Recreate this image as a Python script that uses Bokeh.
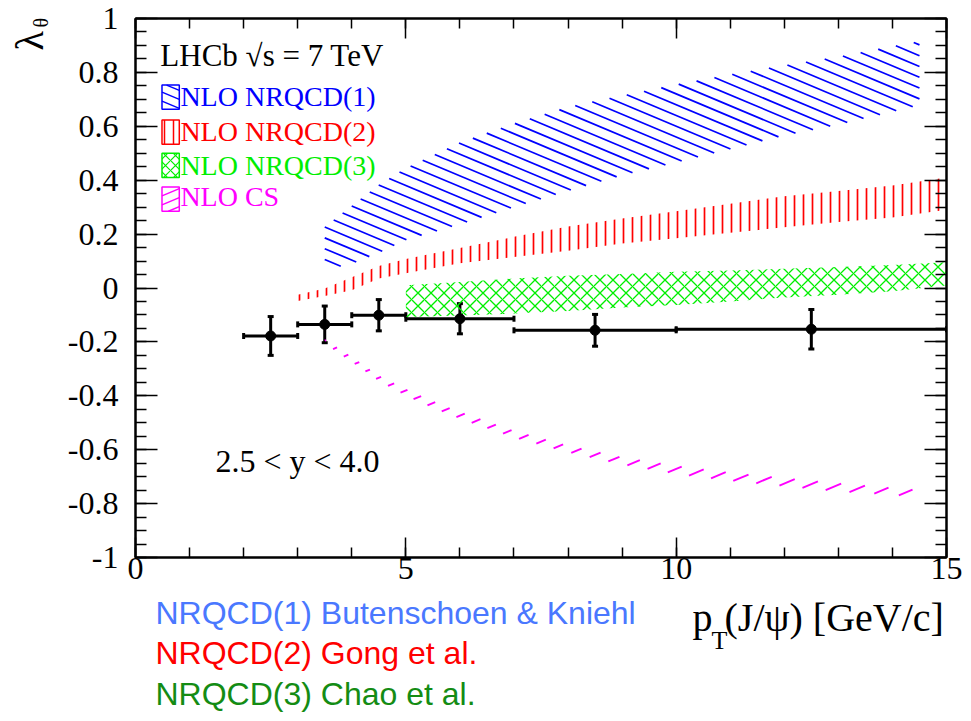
import numpy as np
from math import pi
from bokeh.plotting import figure
from bokeh.layouts import row, column
from bokeh.models import (LinearAxis, Range1d, Whisker, ColumnDataSource, Label,
                          CustomJSTickFormatter, FixedTicker, TeeHead)
from bokeh.embed import file_html
from bokeh.resources import INLINE
from bokeh.core.properties import value

# ---------------- data ----------------
pt_center = [2.5, 3.5, 4.5, 6.0, 8.5, 12.5]
pt_low = [2.0, 3.0, 4.0, 5.0, 7.0, 10.0]
pt_high = [3.0, 4.0, 5.0, 7.0, 10.0, 15.0]
lam_theta = [-0.178, -0.135, -0.101, -0.114, -0.157, -0.153]
lam_err = [0.072, 0.068, 0.058, 0.056, 0.059, 0.073]

nrqcd1_pt = [3.5, 4.0, 4.5, 5.0, 6.0, 7.0, 8.0, 9.0, 10.0, 11.0, 12.0, 13.0, 14.0, 14.5]
nrqcd1_hi = [0.227, 0.305, 0.383, 0.445, 0.54, 0.61, 0.672, 0.714, 0.755, 0.792, 0.826, 0.858, 0.897, 0.915]
nrqcd1_lo = [0.067, 0.09, 0.13, 0.178, 0.236, 0.30, 0.36, 0.418, 0.466, 0.515, 0.566, 0.606, 0.654, 0.678]

nrqcd2_pt = [3.0, 3.5, 4.0, 4.5, 5.0, 6.0, 7.0, 8.0, 9.0, 10.0, 11.0, 12.0, 13.0, 14.0, 15.0]
nrqcd2_hi = [-0.025, -0.002, 0.04, 0.082, 0.108, 0.148, 0.19, 0.228, 0.258, 0.285, 0.313, 0.34, 0.36, 0.38, 0.41]
nrqcd2_lo = [-0.048, -0.03, -0.008, 0.035, 0.055, 0.092, 0.115, 0.138, 0.165, 0.185, 0.205, 0.225, 0.245, 0.262, 0.29]

nrqcd3_pt = [5.0, 6.0, 7.0, 8.0, 9.0, 10.0, 11.0, 12.0, 13.0, 14.0, 15.0]
nrqcd3_hi = [0.01, 0.022, 0.035, 0.045, 0.052, 0.06, 0.065, 0.071, 0.078, 0.085, 0.096]
nrqcd3_lo = [-0.108, -0.102, -0.095, -0.085, -0.072, -0.063, -0.05, -0.035, -0.025, -0.012, 0.009]

cs_pt = [3.5, 4.0, 4.5, 5.0, 5.5, 6.0, 7.0, 8.0, 9.0, 10.0, 11.0, 12.0, 13.0, 14.0, 14.5]
cs_hi = [-0.19, -0.255, -0.325, -0.375, -0.42, -0.46, -0.53, -0.585, -0.628, -0.66, -0.685, -0.705, -0.725, -0.742, -0.75]
cs_lo = [-0.205, -0.275, -0.345, -0.40, -0.445, -0.485, -0.555, -0.61, -0.655, -0.69, -0.715, -0.735, -0.755, -0.768, -0.775]

x_ticks = [0, 5, 10, 15]
y_ticks = [-1.0, -0.8, -0.6, -0.4, -0.2, 0.0, 0.2, 0.4, 0.6, 0.8, 1.0]

legend_labels = ["NLO NRQCD(1)", "NLO NRQCD(2)", "NLO NRQCD(3)", "NLO CS"]
credit_labels = ["NRQCD(1) Butenschoen & Kniehl", "NRQCD(2) Gong et al.", "NRQCD(3) Chao et al."]

# ---------------- styles ----------------
BLUE, RED, GREEN, MAG = "#0000ff", "#ff0000", "#00ee00", "#ff00ff"
SERIF = "Liberation Serif"
FRAME_W, FRAME_H = 811, 539
SX, SY = FRAME_W / 15.0, FRAME_H / 2.0     # px per data unit


def hatch_lines(xs, lo, hi, slope, vspace, n=3000):
    """Slanted hatch lines (screen slope, y up) clipped to the band lo..hi."""
    xs = np.asarray(xs, float)
    xf = np.linspace(xs[0], xs[-1], n)
    lof = np.interp(xf, xs, lo) * SY
    hif = np.interp(xf, xs, hi) * SY
    X = xf * SX
    cmin = (lof - slope * X).min()
    cmax = (hif - slope * X).max()
    out = [[], [], [], []]
    for k in np.arange(np.floor(cmin / vspace), np.ceil(cmax / vspace) + 1):
        Y = slope * X + k * vspace
        idx = np.where((Y >= lof) & (Y <= hif))[0]
        if len(idx) < 2:
            continue
        i0, i1 = idx[0], idx[-1]
        out[0].append(xf[i0]); out[1].append(Y[i0] / SY)
        out[2].append(xf[i1]); out[3].append(Y[i1] / SY)
    return out


p = figure(width=911, height=593, x_range=Range1d(0, 15), y_range=Range1d(-1, 1),
           output_backend="svg", toolbar_location=None,
           min_border_left=75, min_border_right=25, min_border_top=18, min_border_bottom=36,
           x_axis_location=None, y_axis_location=None)
p.grid.visible = False
p.outline_line_color = "black"
p.outline_line_width = 2
p.background_fill_color = "white"
p.border_fill_color = "white"


def make_axis(ticks, minor, labels, tin, tmin):
    ax = LinearAxis(ticker=FixedTicker(ticks=ticks, minor_ticks=minor))
    ax.axis_line_width = 2
    ax.major_tick_in = tin
    ax.major_tick_out = 0
    ax.minor_tick_in = tmin
    ax.minor_tick_out = 0
    ax.major_tick_line_width = 1.5
    ax.minor_tick_line_width = 1.5
    ax.major_label_text_font = SERIF
    ax.major_label_text_font_size = "32px"
    ax.major_label_text_color = "black"
    if labels:
        ax.formatter = CustomJSTickFormatter(code="""
            const v = Math.round(tick * 10) / 10;
            return Math.abs(v) < 1e-9 ? "0" : String(v);
        """)
    else:
        ax.formatter = CustomJSTickFormatter(code="return '';")
        ax.major_label_standoff = 0
        ax.major_label_text_font_size = "1px"
    return ax


x_minor = list(range(0, 16))
y_minor = [round(-1 + 0.05 * i, 2) for i in range(41)]
bx = make_axis(x_ticks, x_minor, True, 20, 10)
bx.major_label_standoff = 0
ly = make_axis(y_ticks, y_minor, True, 22, 11)
ly.major_label_standoff = 17
tx = make_axis(x_ticks, x_minor, False, 20, 10)
ry = make_axis(y_ticks, y_minor, False, 22, 11)
p.add_layout(bx, "below")
p.add_layout(ly, "left")
p.add_layout(tx, "above")
p.add_layout(ry, "right")

# ---- bands ----
HATCH_SLOPE = 0.42
s1 = hatch_lines(nrqcd1_pt, nrqcd1_lo, nrqcd1_hi, -HATCH_SLOPE, 10.8)
p.segment(x0=s1[0], y0=s1[1], x1=s1[2], y1=s1[3], line_color=BLUE, line_width=1.7)
p.varea(x=nrqcd2_pt, y1=nrqcd2_lo, y2=nrqcd2_hi, fill_alpha=0,
        hatch_pattern=value("|"), hatch_color=RED, hatch_scale=9, hatch_weight=1.7)
p.varea(x=nrqcd3_pt, y1=nrqcd3_lo, y2=nrqcd3_hi, fill_alpha=0,
        hatch_pattern=value("x"), hatch_color=GREEN, hatch_scale=13, hatch_weight=1.3)
s4 = hatch_lines(cs_pt, cs_lo, cs_hi, HATCH_SLOPE, 12.0)
p.segment(x0=s4[0], y0=s4[1], x1=s4[2], y1=s4[3], line_color=MAG, line_width=1.9)

# ---- data points ----
src = ColumnDataSource(dict(
    x=pt_center, y=lam_theta, xl=pt_low, xh=pt_high,
    yl=[v - e for v, e in zip(lam_theta, lam_err)],
    yu=[v + e for v, e in zip(lam_theta, lam_err)]))
p.add_layout(Whisker(source=src, base="y", lower="xl", upper="xh", dimension="width",
                     line_width=3, line_color="black",
                     lower_head=TeeHead(size=6, line_width=3), upper_head=TeeHead(size=6, line_width=3)))
p.add_layout(Whisker(source=src, base="x", lower="yl", upper="yu", dimension="height",
                     line_width=3, line_color="black",
                     lower_head=TeeHead(size=6, line_width=3), upper_head=TeeHead(size=6, line_width=3)))
p.scatter("x", "y", source=src, size=10, color="black")

# ---- legend ----
leg_y = [0.708, 0.578, 0.455, 0.33]
leg_text_y = [0.709, 0.579, 0.455, 0.338]
bx0, bx1, bh = 0.49, 0.81, 0.045
for i, (lab, col) in enumerate(zip(legend_labels, [BLUE, RED, GREEN, MAG])):
    yc = leg_y[i]
    if i == 0:
        h = hatch_lines([bx0, bx1], [yc - bh] * 2, [yc + bh] * 2, -HATCH_SLOPE, 9.0)
        p.segment(x0=h[0], y0=h[1], x1=h[2], y1=h[3], line_color=col, line_width=1.5)
    elif i == 3:
        h = hatch_lines([bx0, bx1], [yc - bh] * 2, [yc + bh] * 2, HATCH_SLOPE, 9.0)
        p.segment(x0=h[0], y0=h[1], x1=h[2], y1=h[3], line_color=col, line_width=1.5)
    hp = {1: ("|", 9, 1.5), 2: ("x", 10, 1.2)}.get(i)
    kw = dict(hatch_pattern=value(hp[0]), hatch_color=col, hatch_scale=hp[1], hatch_weight=hp[2]) if hp else {}
    p.quad(left=[bx0], right=[bx1], bottom=[yc - bh], top=[yc + bh],
           fill_alpha=0, line_color=col, line_width=1.5, **kw)
    p.add_layout(Label(x=0.83, y=leg_text_y[i], text=lab, text_color=col,
                       text_font=SERIF, text_font_size="28px", text_baseline="alphabetic"))

p.add_layout(Label(x=0.46, y=0.863, text="LHCb  \u221As = 7 TeV", text_color="black",
                   text_font=SERIF, text_font_size="31px", text_baseline="alphabetic"))
p.add_layout(Label(x=1.48, y=-0.643, text="2.5 < y < 4.0", text_color="black",
                   text_font=SERIF, text_font_size="32px", text_baseline="alphabetic"))

# ---- left strip with the y-axis title ----
pl = figure(width=60, height=721, x_range=Range1d(0, 60), y_range=Range1d(721, 0),
            output_backend="svg", toolbar_location=None, min_border=0,
            x_axis_location=None, y_axis_location=None)
pl.grid.visible = False
pl.outline_line_color = None
pl.add_layout(Label(x=29, y=50, text="\u03bb", angle=pi / 2, text_color="black",
                    text_font=SERIF, text_font_size="40px", text_baseline="alphabetic"))
pl.add_layout(Label(x=40, y=27, text="\u03b8", angle=pi / 2, text_color="black",
                    text_font=SERIF, text_font_size="20px", text_baseline="alphabetic"))

# ---- bottom strip: x-axis title and credits (frame aligned with the plot frame) ----
pb = figure(width=911, height=128, x_range=Range1d(135, 946), y_range=Range1d(721, 593),
            output_backend="svg", toolbar_location=None, min_border=0,
            x_axis_location=None, y_axis_location=None)
pb.grid.visible = False
pb.outline_line_color = None
pb.add_layout(Label(x=692, y=617, text="p", text_color="black",
                    text_font=SERIF, text_font_size="40px", text_baseline="alphabetic"))
pb.add_layout(Label(x=711, y=640, text="T", text_color="black",
                    text_font=SERIF, text_font_size="26px", text_baseline="alphabetic"))
pb.add_layout(Label(x=724, y=617, text="(J/\u03c8) [GeV/c]", text_color="black",
                    text_font=SERIF, text_font_size="40px", text_baseline="alphabetic"))
credit_colors = ["#4a78ff", "#ff0000", "#148c14"]
credit_y = [612.5, 652, 693]
for t, c, yy in zip(credit_labels, credit_colors, credit_y):
    pb.add_layout(Label(x=155, y=yy, text=t, text_color=c,
                        text_font="Liberation Sans", text_font_size="32px", text_baseline="alphabetic"))

layout = row(pl, column(p, pb))
open("out.html", "w").write(file_html(layout, INLINE))
